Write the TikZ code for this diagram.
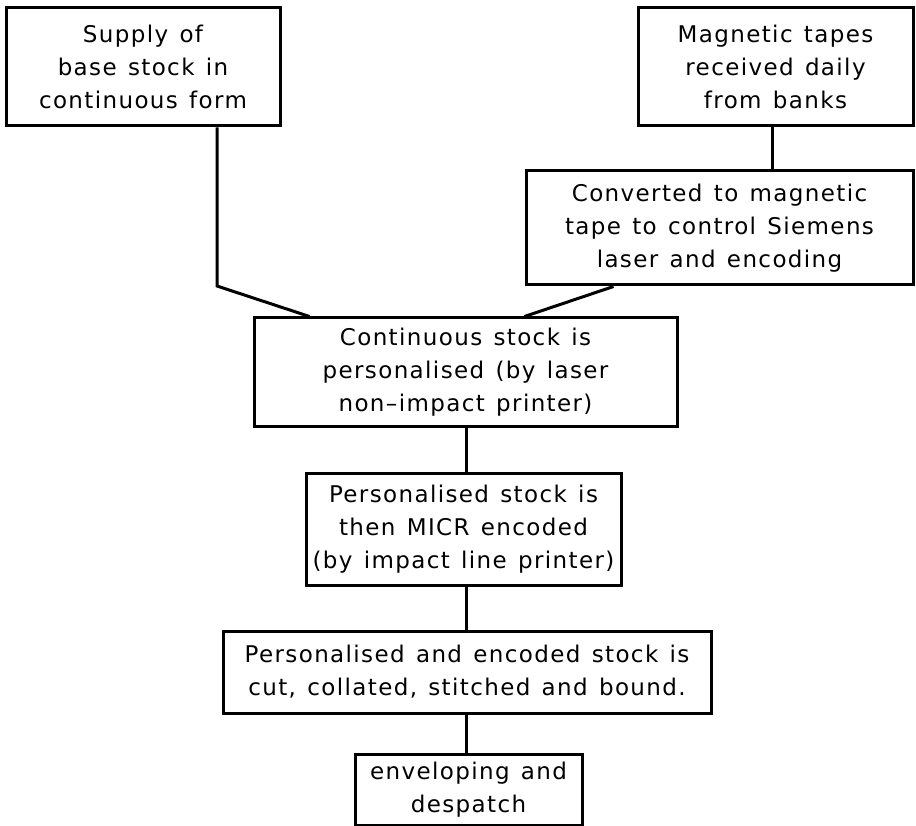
\documentclass[tikz,border=0pt]{standalone}
\usepackage{fontspec}
\setmainfont[LetterSpace=6,WordSpace=1.3]{DejaVu Sans}
\usetikzlibrary{calc}
\begin{document}
\begin{tikzpicture}[x=1pt,y=-1pt,
  stage/.style={draw, line width=3pt, inner sep=0pt, align=center,
    font=\fontsize{23}{33}\selectfont},
  link/.style={line width=3pt, line join=miter}]
\fill[white] (0,0) rectangle (916,826);
\useasboundingbox (0,0) rectangle (916,826);

% process stages
\node[stage, minimum width=274pt, minimum height=118pt] (b1) at (143,67)
  {Supply of\\base stock in\\continuous form};
\node[stage, minimum width=275pt, minimum height=118pt] (b2) at (775.5,67)
  {Magnetic tapes\\received daily\\from banks};
\node[stage, minimum width=387pt, minimum height=114pt] (b3) at (719.5,228)
  {Converted to magnetic\\tape to control Siemens\\laser and encoding};
\node[stage, minimum width=423pt, minimum height=108pt] (b4) at (465.5,372)
  {Continuous stock is\\personalised (by laser\\non--impact printer)};
\node[stage, minimum width=315pt, minimum height=112pt] (b5) at (463.5,529)
  {Personalised stock is\\then MICR encoded\\(by impact line printer)};
\node[stage, minimum width=488pt, minimum height=82pt] (b6) at (467,672)
  {Personalised and encoded stock is\\cut, collated, stitched and bound.};
\node[stage, minimum width=227pt, minimum height=71pt] (b7) at (468.5,789.5)
  {enveloping and\\despatch};

% connectors
\coordinate (axis) at (466,0);
\coordinate (k1) at (217,286);
\draw[link] ($(b1.south)+(74,0)$) -- (k1) -- ($(b4.north west)+(57,0)$);
\draw[link] ($(b2.south)+(-3.5,0)$) -- ($(b2.south |- b3.north)+(-3.5,0)$);
\draw[link] ($(b3.south west)+(89,0)$) -- ($(b4.north west)+(272,0)$);
\draw[link] (b4.south -| axis) -- (b5.north -| axis);
\draw[link] (b5.south -| axis) -- (b6.north -| axis);
\draw[link] (b6.south -| axis) -- (b7.north -| axis);
\end{tikzpicture}
\end{document}
